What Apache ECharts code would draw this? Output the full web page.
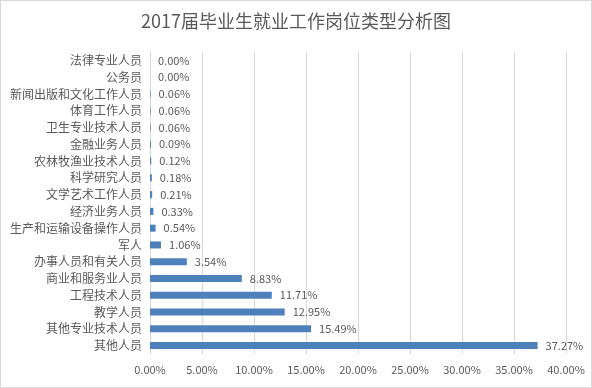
<!DOCTYPE html>
<html><head><meta charset="utf-8">
<script src="https://cdn.jsdelivr.net/npm/echarts@6/dist/echarts.min.js"></script>
<style>html,body{margin:0;padding:0;background:#fff}#c{width:592px;height:388px;box-sizing:border-box;border:1px solid #d9d9d9}</style>
</head><body><div id="c"></div>
<script>
const titleText = '2017届毕业生就业工作岗位类型分析图';
const categories = ['其他人员','其他专业技术人员','教学人员','工程技术人员','商业和服务业人员','办事人员和有关人员','军人','生产和运输设备操作人员','经济业务人员','文学艺术工作人员','科学研究人员','农林牧渔业技术人员','金融业务人员','卫生专业技术人员','体育工作人员','新闻出版和文化工作人员','公务员','法律专业人员'];
const values = [37.27,15.49,12.95,11.71,8.83,3.54,1.06,0.54,0.33,0.21,0.18,0.12,0.09,0.06,0.06,0.06,0.00,0.00];
const xMin = 0, xMax = 40, xStep = 5;

const font = '"Noto Sans CJK SC", "Microsoft YaHei", sans-serif';
const chart = echarts.init(document.getElementById('c'));
chart.setOption({
  animation: false,
  title: {text: titleText, left: 'center', top: 6, textStyle: {fontFamily: font, fontSize: 18, fontWeight: 'normal', color: '#595959'}},
  grid: {left: 149, right: 25, top: 51, bottom: 33, containLabel: false},
  xAxis: {type: 'value', min: xMin, max: xMax, interval: xStep,
    axisLine: {show: false}, axisTick: {show: false},
    splitLine: {lineStyle: {color: '#d9d9d9'}},
    axisLabel: {fontFamily: font, fontSize: 11, color: '#595959', margin: 10, formatter: v => v.toFixed(2) + '%'}},
  yAxis: {type: 'category', data: categories,
    axisLine: {lineStyle: {color: '#d9d9d9'}}, axisTick: {show: false},
    axisLabel: {fontFamily: font, fontSize: 12, color: '#595959', margin: 8}},
  series: [{type: 'bar', data: values, barWidth: 7, itemStyle: {color: '#4E80BC'},
    label: {show: true, position: 'right', distance: 8, fontFamily: font, fontSize: 11, color: '#595959', formatter: p => p.value.toFixed(2) + '%'}}]
});
</script></body></html>
